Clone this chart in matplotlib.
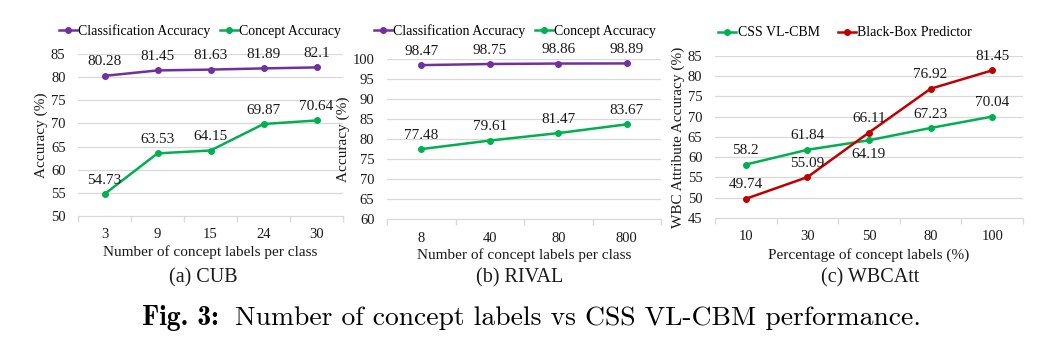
import matplotlib
matplotlib.use("Agg")
import matplotlib.pyplot as plt
import numpy as np

plt.rcParams['font.family'] = ['Liberation Serif', 'DejaVu Serif']

# ---- data ----
cub_x = ['3', '9', '15', '24', '30']
cub_cls = [80.28, 81.45, 81.63, 81.89, 82.1]
cub_con = [54.73, 63.53, 64.15, 69.87, 70.64]

rival_x = ['8', '40', '80', '800']
rival_cls = [98.47, 98.75, 98.86, 98.89]
rival_con = [77.48, 79.61, 81.47, 83.67]

wbc_x = ['10', '30', '50', '80', '100']
wbc_css = [58.2, 61.84, 64.19, 67.23, 70.04]
wbc_bb = [49.74, 55.09, 66.11, 76.92, 81.45]

PURPLE = '#7030A0'
GREEN = '#00B050'
RED = '#C00000'
TXT = '#1a1a1a'
GRID = '#d9d9d9'

W, H = 1051, 352
fig = plt.figure(figsize=(W / 100, H / 100), dpi=100)

def setup(ax, cats, ylim, yticks, xlabel, ylabel):
    n = len(cats)
    ax.set_xlim(-0.5, n - 0.5)
    ax.set_ylim(*ylim)
    ax.set_yticks(yticks)
    ax.set_xticks(range(n))
    ax.set_xticklabels(cats)
    ax.set_xticks(np.arange(-0.5, n, 1.0), minor=True)
    ax.tick_params(axis='x', which='major', length=0, pad=9, labelsize=10.5, colors=TXT)
    ax.tick_params(axis='x', which='minor', length=4, color=GRID, width=1)
    ax.tick_params(axis='y', length=0, pad=9, labelsize=10.5, colors=TXT)
    for s in ['top', 'right', 'left']:
        ax.spines[s].set_visible(False)
    ax.spines['bottom'].set_color(GRID)
    ax.yaxis.grid(True, color=GRID, lw=0.9)
    ax.set_axisbelow(True)
    ax.set_xlabel(xlabel, fontsize=11, color=TXT, labelpad=3)
    ax.set_ylabel(ylabel, fontsize=11, color=TXT, labelpad=2)

def annotate(ax, vals, below=()):
    for i, v in enumerate(vals):
        dy = -10.5 if i in below else 10
        ax.annotate(f'{v:g}', (i, v), xytext=(0, dy), textcoords='offset points',
                    ha='center', va='center', fontsize=11, color=TXT)

def line(ax, vals, color, label):
    ax.plot(range(len(vals)), vals, color=color, lw=1.8, marker='o', ms=4,
            label=label, zorder=3)

def legend(ax, cx, cy, colsp):
    ax.legend(loc='center', bbox_to_anchor=(cx / W, 1 - cy / H), bbox_transform=fig.transFigure,
              ncol=2, frameon=False, fontsize=10, handlelength=1.3, handletextpad=0.1,
              columnspacing=colsp, borderpad=0)

# panel a
axa = fig.add_axes([78 / W, 1 - 216 / H, 265 / W, 162 / H])
setup(axa, cub_x, (50, 85), range(50, 86, 5), 'Number of concept labels per class', 'Accuracy (%)')
line(axa, cub_cls, PURPLE, 'Classification Accuracy')
line(axa, cub_con, GREEN, 'Concept Accuracy')
annotate(axa, cub_cls)
annotate(axa, cub_con)
legend(axa, 200, 31, 0.7)

# panel b
axb = fig.add_axes([387 / W, 1 - 219 / H, 274 / W, 160 / H])
setup(axb, rival_x, (60, 100), range(60, 101, 5), 'Number of concept labels per class', 'Accuracy (%)')
line(axb, rival_cls, PURPLE, 'Classification Accuracy')
line(axb, rival_con, GREEN, 'Concept Accuracy')
annotate(axb, rival_cls)
annotate(axb, rival_con)
legend(axb, 515, 31, 0.7)

# panel c
axc = fig.add_axes([715 / W, 1 - 218 / H, 308 / W, 162 / H])
setup(axc, wbc_x, (45, 85), range(45, 86, 5), 'Percentage of concept labels (%)',
      'WBC Attribute Accuracy (%)')
line(axc, wbc_css, GREEN, 'CSS VL-CBM')
line(axc, wbc_bb, RED, 'Black-Box Predictor')
annotate(axc, wbc_css, below=(2,))
annotate(axc, wbc_bb)
legend(axc, 845, 33, 1.3)

# subcaptions
fig.text(203 / W, 1 - 278 / H, '(a) CUB', ha='center', va='center', fontsize=14.5, color=TXT)
fig.text(520 / W, 1 - 278 / H, '(b) RIVAL', ha='center', va='center', fontsize=14.5, color=TXT)
fig.text(870 / W, 1 - 278 / H, '(c) WBCAtt', ha='center', va='center', fontsize=14.5, color=TXT)

# caption (Computer Modern)
base_y = 1 - 325 / H
rest = fig.text(235 / W, base_y, 'Number of concept labels vs CSS VL-CBM performance.',
                ha='left', va='baseline', fontsize=18, family='cmr10', color='black')
renderer = fig.canvas.get_renderer()
wpx = rest.get_window_extent(renderer).width
fs = 18 * 687 / wpx
rest.set_fontsize(fs)
fig.text(219 / W, base_y, 'Fig. 3:', ha='right', va='baseline', fontsize=fs,
         family='cmb10', color='black')

fig.savefig('out.png', dpi=100, facecolor='white')
